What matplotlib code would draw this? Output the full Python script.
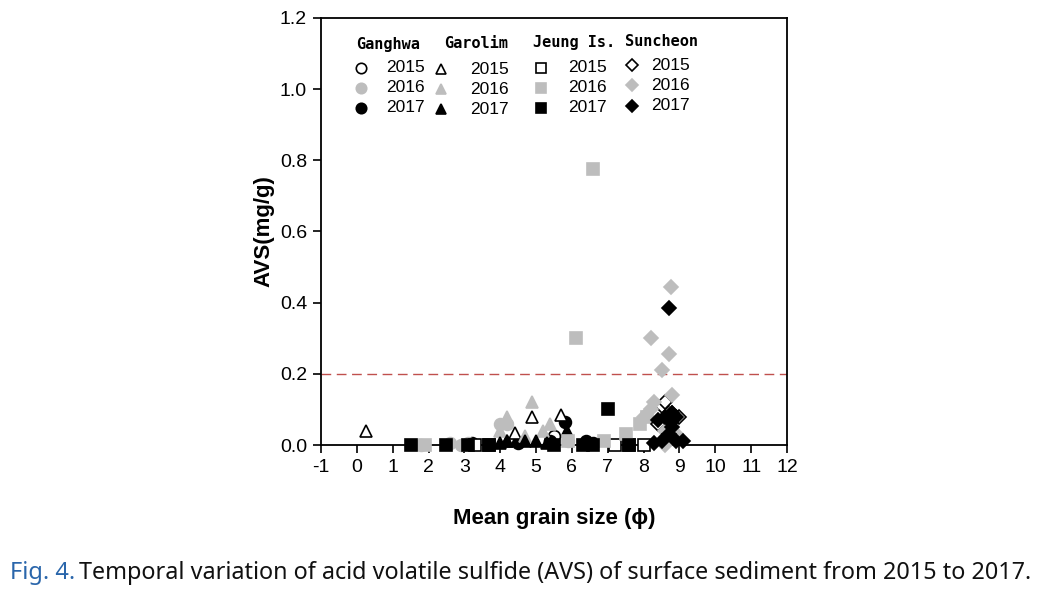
import matplotlib.pyplot as plt

plt.rcParams['font.family'] = ['Liberation Sans', 'DejaVu Sans']
plt.rcParams['axes.unicode_minus'] = False

# Ganghwa (circles)
gh15_x = [3.2, 5.4, 5.5]
gh15_y = [0.005, 0.01, 0.025]
gh16_x = [1.8, 2.6, 2.9, 3.1, 4.0, 4.2, 5.9]
gh16_y = [0.0, 0.005, 0.0, 0.005, 0.06, 0.06, 0.01]
gh17_x = [4.5, 5.4, 5.8, 6.4, 6.6]
gh17_y = [0.005, 0.01, 0.065, 0.012, 0.005]

# Garolim (triangles)
gr15_x = [0.25, 4.2, 4.4, 4.9, 5.7]
gr15_y = [0.04, 0.01, 0.035, 0.08, 0.085]
gr16_x = [4.0, 4.2, 4.7, 4.9, 5.2, 5.4]
gr16_y = [0.04, 0.08, 0.025, 0.12, 0.04, 0.06]
gr17_x = [4.0, 4.2, 4.7, 5.0, 5.3, 5.85]
gr17_y = [0.005, 0.01, 0.01, 0.01, 0.005, 0.04]

# Jeung Is. (squares)
jg15_x = [3.3, 3.7, 7.2, 7.6, 8.0]
jg15_y = [0.0, 0.0, 0.0, 0.0, 0.0]
jg16_x = [1.9, 5.9, 6.1, 6.6, 6.9, 7.5, 7.9, 8.1]
jg16_y = [0.0, 0.01, 0.3, 0.775, 0.01, 0.03, 0.06, 0.08]
jg17_x = [1.5, 2.5, 3.1, 3.7, 5.5, 6.3, 6.6, 7.0, 7.6]
jg17_y = [0.0, 0.0, 0.0, 0.0, 0.0, 0.0, 0.0, 0.1, 0.0]

# Suncheon (diamonds)
sc15_x = [8.4, 8.5, 8.6, 8.8, 9.0]
sc15_y = [0.06, 0.11, 0.12, 0.09, 0.08]
sc16_x = [8.0, 8.2, 8.2, 8.3, 8.5, 8.6, 8.6, 8.7, 8.75, 8.8, 8.9]
sc16_y = [0.08, 0.1, 0.3, 0.12, 0.21, 0.04, 0.0, 0.255, 0.445, 0.14, 0.03]
sc17_x = [8.3, 8.4, 8.5, 8.6, 8.7, 8.7, 8.75, 8.8, 8.8, 8.9, 8.9, 9.1]
sc17_y = [0.005, 0.07, 0.01, 0.08, 0.385, 0.03, 0.065, 0.09, 0.05, 0.08, 0.01, 0.01]

GREY = '#bdbdbd'
year_style = [('white', 'black'), (GREY, GREY), ('black', 'black')]
sites = [
    ('Ganghwa', 'o', [(gh15_x, gh15_y), (gh16_x, gh16_y), (gh17_x, gh17_y)]),
    ('Garolim', '^', [(gr15_x, gr15_y), (gr16_x, gr16_y), (gr17_x, gr17_y)]),
    ('Jeung Is.', 's', [(jg15_x, jg15_y), (jg16_x, jg16_y), (jg17_x, jg17_y)]),
    ('Suncheon', 'D', [(sc15_x, sc15_y), (sc16_x, sc16_y), (sc17_x, sc17_y)]),
]
years = ['2015', '2016', '2017']

W, H = 1050, 589
fig = plt.figure(figsize=(10.5, 5.89), dpi=100)
L, R, T, B = 321, 787, 18, 445
ax = fig.add_axes([L / W, 1 - B / H, (R - L) / W, (B - T) / H])

msize = {'o': 8.5, '^': 8.5, 's': 8, 'D': 7.5}
for name, mk, data in sites:
    for (xs, ys), (fc, ec) in zip(data, year_style):
        ax.plot(xs, ys, linestyle='none', marker=mk, ms=msize[mk],
                mfc=fc, mec=ec, mew=1.2, clip_on=False, zorder=3)

ax.axhline(0.2, color='#c0504d', lw=1, dashes=(7, 4), zorder=2)

ax.set_xlim(-1, 12)
ax.set_ylim(0, 1.2)
ax.set_xticks(range(-1, 13))
ax.set_yticks([0, 0.2, 0.4, 0.6, 0.8, 1.0, 1.2])
ax.set_yticklabels(['0.0', '0.2', '0.4', '0.6', '0.8', '1.0', '1.2'])
ax.tick_params(direction='out', length=6, width=1.2, labelsize=14, pad=4)
for sp in ax.spines.values():
    sp.set_linewidth(1.3)

ax.set_xlabel('Mean grain size (ϕ)', fontsize=16, fontweight='bold',
              labelpad=23)
ax.set_ylabel('AVS(mg/g)', fontsize=16, fontweight='bold', labelpad=4)

# legend drawn by hand (pixel positions of the reference)
def axpos(px, py):
    return (px - L) / (R - L), (B - py) / (B - T)

head_x = [388, 476, 574, 662]
head_y = [44, 44, 43, 42]
mark_x = [361, 441, 541, 632]
text_x = [386, 470, 568, 651]
row_y = [[68, 88, 108], [69, 89, 109], [68, 88, 108], [65, 85, 106]]
for i, (name, mk, data) in enumerate(sites):
    hx, hy = axpos(head_x[i], head_y[i])
    ax.text(hx, hy, name, transform=ax.transAxes, ha='center', va='center',
            fontsize=11, fontweight='bold', family='DejaVu Sans Mono')
    for j, (fc, ec) in enumerate(year_style):
        mx, my = axpos(mark_x[i], row_y[i][j])
        ax.plot([mx], [my], transform=ax.transAxes, linestyle='none',
                marker=mk, ms=msize[mk] - 1, mfc=fc, mec=ec, mew=1.2,
                clip_on=False)
        tx, ty = axpos(text_x[i], row_y[i][j])
        ax.text(tx, ty, years[j], transform=ax.transAxes, ha='left',
                va='center', fontsize=12.5)

# caption
cap_y = 1 - 573 / H
t1 = fig.text(10 / W, cap_y, 'Fig. 4.', color='#2a66ab', fontsize=17,
              family='Noto Sans', fontweight='semibold', va='center', ha='left')
fig.canvas.draw()
bb = t1.get_window_extent()
fig.text(bb.x1 / W + 4 / W, cap_y,
         'Temporal variation of acid volatile sulfide (AVS) of surface sediment from 2015 to 2017.',
         color='#111111', fontsize=16.8, family='Noto Sans', va='center', ha='left')

fig.savefig('out.png', dpi=100)
